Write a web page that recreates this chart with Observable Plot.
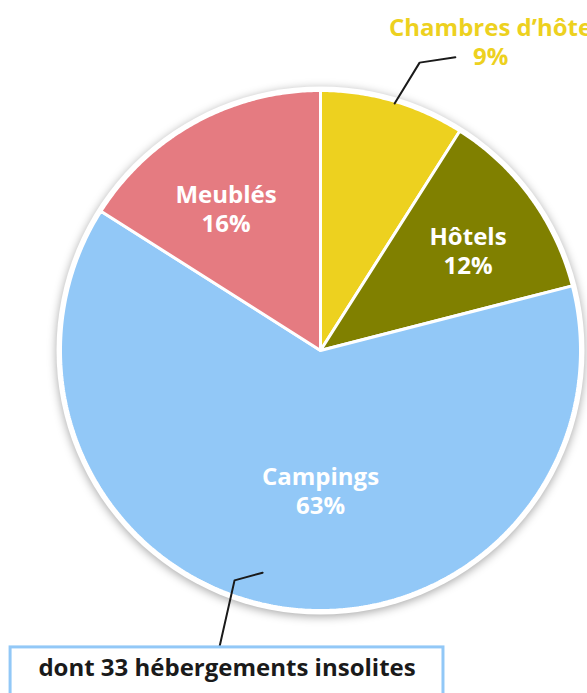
<!DOCTYPE html>
<html><head><meta charset="utf-8">
<script src="https://cdn.jsdelivr.net/npm/d3@7"></script>
<script src="https://cdn.jsdelivr.net/npm/@observablehq/plot@0.6"></script>
<style>html,body{margin:0;padding:0;background:#fff;overflow:hidden;}</style>
</head><body><div id="chart"></div>
<script>
// ---- data ----
const categories = ["Chambres d’hôte", "Hôtels", "Campings", "Meublés"];
const shares = [9, 12, 63, 16];
const colors = ["#EDD11F", "#808000", "#92C8F7", "#E57B81"];
const note = "dont 33 hébergements insolites";

// ---- layout (polar: angle in degrees clockwise from top, radius in pie radii) ----
const labelPolar = [[28.8, 1.358], [55.8, 0.686], [180, 0.537], [326.4, 0.657]];
const labelColors = ["#EDD11F", "white", "white", "white"];
const leaderPolar = {
  "Chambres d’hôte": [[16.7, 0.992], [19.0, 1.171], [24.7, 1.241]],
  "Campings": [[194.6, 0.883], [200.5, 0.944], [198.8, 1.207]]
};
const noteBox = {x1: -1.192, x2: 0.473, y1: -1.142, y2: -1.4, ty: -1.222};

const polar = ([a, r]) => ({x: r * Math.sin(a * Math.PI / 180), y: r * Math.cos(a * Math.PI / 180)});

// slices
const total = d3.sum(shares);
let acc = 0;
const slicePts = [];
categories.forEach((c, i) => {
  const a0 = acc / total * 360, a1 = (acc + shares[i]) / total * 360;
  acc += shares[i];
  slicePts.push({name: c, color: colors[i], x: 0, y: 0});
  const n = Math.max(2, Math.ceil((a1 - a0) / 0.5));
  for (let k = 0; k <= n; k++) {
    const p = polar([a0 + (a1 - a0) * k / n, 1]);
    slicePts.push({name: c, color: colors[i], x: p.x, y: p.y});
  }
});

const labels = categories.map((c, i) => ({
  text: c + "\n" + shares[i] + "%", color: labelColors[i], ...polar(labelPolar[i])
}));

const leaders = Object.entries(leaderPolar).flatMap(([k, pts]) => pts.map(p => ({name: k, ...polar(p)})));

const chart = Plot.plot({
  width: 587, height: 693, margin: 0,
  style: {fontFamily: "'Open Sans', sans-serif", background: "white"},
  x: {domain: [-1, 1], range: [60, 580], axis: null},
  y: {domain: [-1, 1], range: [610, 90], axis: null},
  marks: [
    Plot.dot([{x: 0, y: 0}], {x: "x", y: "y", r: 264, fill: "white", stroke: "none"}),
    Plot.line(slicePts, {x: "x", y: "y", z: "name", fill: "color", stroke: "white", strokeWidth: 3, curve: "linear-closed", strokeLinejoin: "miter"}),
    Plot.line(leaders, {x: "x", y: "y", z: "name", stroke: "#1a1a1a", strokeWidth: 2}),
    Plot.text(labels, {x: "x", y: "y", text: "text", fill: "color", fontSize: 24, fontWeight: "bold", lineHeight: 1.2, textAnchor: "middle", lineAnchor: "middle"}),
    Plot.rect([noteBox], {x1: "x1", x2: "x2", y1: "y1", y2: "y2", fill: "white", stroke: "#92C8F7", strokeWidth: 3}),
    Plot.text([noteBox], {x: d => (d.x1 + d.x2) / 2, y: "ty", text: () => note, fill: "#1a1a1a", fontSize: 24, fontWeight: "bold", textAnchor: "middle"})
  ]
});
const dotG = chart.querySelector('g[aria-label="dot"]');
if (dotG) dotG.style.filter = "drop-shadow(0px 2px 5px rgba(0,0,0,0.35))";
document.getElementById("chart").appendChild(chart);
</script>
</body></html>
